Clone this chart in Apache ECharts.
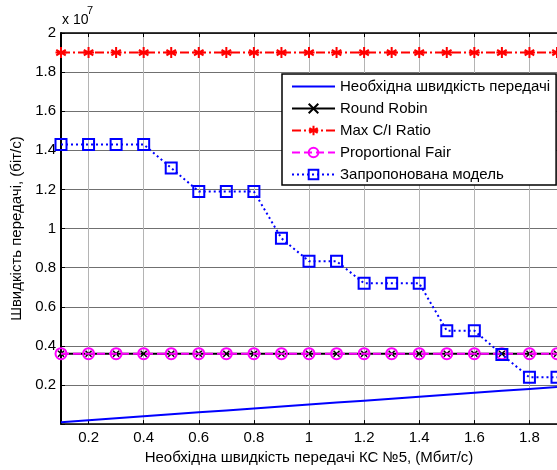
<!DOCTYPE html>
<html><head><meta charset="utf-8">
<script src="https://cdn.jsdelivr.net/npm/echarts@6/dist/echarts.min.js"></script>
<style>html,body{margin:0;padding:0;background:#fff}#c{width:557px;height:470px}</style>
</head><body><div id="c"></div>
<script>
const xValues = [0.1,0.2,0.3,0.4,0.5,0.6,0.7,0.8,0.9,1.0,1.1,1.2,1.3,1.4,1.5,1.6,1.7,1.8,1.9];
const required = [0.1e6,0.2e6,0.3e6,0.4e6,0.5e6,0.6e6,0.7e6,0.8e6,0.9e6,1.0e6,1.1e6,1.2e6,1.3e6,1.4e6,1.5e6,1.6e6,1.7e6,1.8e6,1.9e6];
const roundRobin = [3.6e6,3.6e6,3.6e6,3.6e6,3.6e6,3.6e6,3.6e6,3.6e6,3.6e6,3.6e6,3.6e6,3.6e6,3.6e6,3.6e6,3.6e6,3.6e6,3.6e6,3.6e6,3.6e6];
const maxCI = [1.9e7,1.9e7,1.9e7,1.9e7,1.9e7,1.9e7,1.9e7,1.9e7,1.9e7,1.9e7,1.9e7,1.9e7,1.9e7,1.9e7,1.9e7,1.9e7,1.9e7,1.9e7,1.9e7];
const propFair = [3.6e6,3.6e6,3.6e6,3.6e6,3.6e6,3.6e6,3.6e6,3.6e6,3.6e6,3.6e6,3.6e6,3.6e6,3.6e6,3.6e6,3.6e6,3.6e6,3.6e6,3.6e6,3.6e6];
const proposed = [1.43e7,1.43e7,1.43e7,1.43e7,1.31e7,1.19e7,1.19e7,1.19e7,0.95e7,0.833e7,0.833e7,0.72e7,0.72e7,0.72e7,0.478e7,0.478e7,0.356e7,0.239e7,0.239e7];
const xTicks = [0.2,0.4,0.6,0.8,1.0,1.2,1.4,1.6,1.8];
const seriesNames = ['Необхідна швидкість передачі','Round Robin','Max C/I Ratio','Proportional Fair','Запропонована модель'];

const pts = a => xValues.map((x,i)=>[x,a[i]]);
const FONT = 'Liberation Sans, Arial, sans-serif';
const chart = echarts.init(document.getElementById('c'), null, {renderer:'canvas'});
const star = 'path://M0,-5L0,5M-4.33,-2.5L4.33,2.5M-4.33,2.5L4.33,-2.5M-5,0L5,0';
const cross = 'path://M-4,-4L4,4M-4,4L4,-4';
chart.setOption({
  animation:false,
  backgroundColor:'#fff',
  textStyle:{fontFamily:FONT},
  grid:{left:61,right:0,top:33,bottom:44,containLabel:false},
  legend:{
    data:[{name:seriesNames[0],itemStyle:{color:'rgba(0,0,0,0)',borderWidth:0,opacity:0}},seriesNames[1],seriesNames[2],seriesNames[3],seriesNames[4]],
    orient:'vertical', left:282, top:74,
    itemWidth:43, itemHeight:12, itemGap:7,
    padding:[5,6,3,9], borderColor:'#000', borderWidth:1.5, backgroundColor:'#fff',
    textStyle:{fontFamily:FONT,fontSize:15,color:'#000'}, z:10
  },
  graphic:[
    {type:'text',left:62,top:13,style:{text:'x 10',font:'14px '+FONT,fill:'#000'}},
    {type:'text',left:87,top:5,style:{text:'7',font:'11px '+FONT,fill:'#000'}}
  ],
  xAxis:[{
    type:'value', min:0.1, max:1.9,
    name:'Необхідна швидкість передачі КС №5, (Мбит/с)', nameLocation:'middle', nameGap:25,
    nameTextStyle:{fontFamily:FONT,fontSize:15,color:'#000'},
    axisLine:{lineStyle:{color:'#000',width:1.5}},
    axisTick:{inside:true,length:4,customValues:xTicks,lineStyle:{color:'#000'}},
    axisLabel:{customValues:xTicks,fontFamily:FONT,fontSize:15,color:'#000',margin:6,formatter:v=>String(+v.toFixed(1))},
    splitLine:{show:true,lineStyle:{color:'#b4b4b4',width:1}}
  },{
    type:'value', min:0.1, max:1.9, position:'top',
    axisLine:{lineStyle:{color:'#000',width:1.5}},
    axisTick:{inside:true,length:4,customValues:xTicks,lineStyle:{color:'#000'}},
    axisLabel:{show:false}, splitLine:{show:false}
  }],
  yAxis:{
    type:'value', min:0, max:2e7, interval:2e6,
    name:'Швидкість передачі, (біт/с)', nameLocation:'middle', nameGap:36,
    nameTextStyle:{fontFamily:FONT,fontSize:15,color:'#000'},
    axisLine:{show:true,lineStyle:{color:'#000',width:2}},
    axisTick:{show:true,inside:true,length:4,lineStyle:{color:'#000'}},
    axisLabel:{fontFamily:FONT,fontSize:15,color:'#000',margin:5,formatter:v=>v===0?'':String(+(v/1e7).toFixed(1))},
    splitLine:{show:true,lineStyle:{color:'#707070',width:1}}
  },
  series:[
    {name:seriesNames[0],type:'line',data:pts(required),symbol:'none',
     lineStyle:{color:'#0000ff',width:2},itemStyle:{color:'#0000ff'},z:2},
    {name:seriesNames[1],type:'line',data:pts(roundRobin),symbol:cross,symbolSize:6,
     lineStyle:{color:'#000',width:2},itemStyle:{color:'#000',borderColor:'#000',borderWidth:1.5},z:3},
    {name:seriesNames[2],type:'line',data:pts(maxCI),symbol:star,symbolSize:11,
     lineStyle:{color:'#ff0000',width:2,type:[9,3,2,3]},itemStyle:{color:'#ff0000',borderColor:'#ff0000',borderWidth:2},z:4},
    {name:seriesNames[3],type:'line',data:pts(propFair),symbol:'circle',symbolSize:11,
     lineStyle:{color:'#ff00ff',width:2,type:[8,4]},itemStyle:{color:'none',borderColor:'#ff00ff',borderWidth:2},z:5},
    {name:seriesNames[4],type:'line',data:pts(proposed),symbol:'rect',symbolSize:11,
     lineStyle:{color:'#0000ff',width:2,type:[2,3]},itemStyle:{color:'none',borderColor:'#0000ff',borderWidth:2},z:6}
  ]
});
</script></body></html>
